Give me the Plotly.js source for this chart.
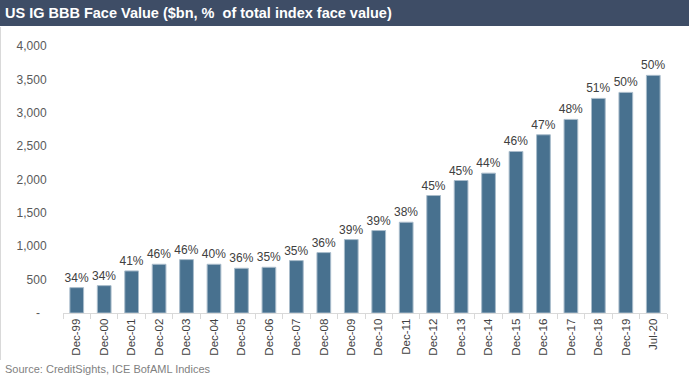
<!DOCTYPE html>
<html>
<head>
<meta charset="utf-8">
<script src="https://cdn.plot.ly/plotly-3.0.1.min.js"></script>
<style>
html,body{margin:0;padding:0;background:#fff;}
#chart{width:691px;height:379px;}
</style>
</head>
<body>
<div id="chart"></div>
<script>
const categories = ["Dec-99","Dec-00","Dec-01","Dec-02","Dec-03","Dec-04","Dec-05","Dec-06","Dec-07","Dec-08","Dec-09","Dec-10","Dec-11","Dec-12","Dec-13","Dec-14","Dec-15","Dec-16","Dec-17","Dec-18","Dec-19","Jul-20"];
const faceValue = [380,410,630,730,800,730,670,685,785,905,1100,1235,1360,1760,1985,2095,2420,2670,2900,3215,3305,3560];
const pctOfIndex = [34,34,41,46,46,40,36,35,35,36,39,39,38,45,45,44,46,47,48,51,50,50];
const yTickVals = [0,500,1000,1500,2000,2500,3000,3500,4000];
const yTickText = ["-\u00a0\u00a0","500","1,000","1,500","2,000","2,500","3,000","3,500","4,000"];

const FONT = "Liberation Sans, Arial, sans-serif";
const L = 63, R = 24, T = 46, B = 66, W = 691, H = 379;
const pw = W - L - R, ph = H - T - B;
const px = v => (v - L) / pw;          // page x -> paper x
const py = v => (H - B - v) / ph;      // page y -> paper y

const trace = {
  type: "bar",
  x: categories,
  y: faceValue,
  text: pctOfIndex.map(p => p + "%"),
  textposition: "outside",
  constraintext: "none",
  cliponaxis: false,
  textfont: {family: FONT, size: 12, color: "#404040"},
  marker: {color: "#48718f", line: {color: "#a9bccb", width: 1}},
  hoverinfo: "x+y"
};

const layout = {
  width: W, height: H,
  margin: {l: L, r: R, t: T, b: B, pad: 0},
  paper_bgcolor: "#fff", plot_bgcolor: "#fff",
  font: {family: FONT, size: 12, color: "#595959"},
  showlegend: false,
  bargap: 0.5,
  title: {
    text: "<b>US IG BBB Face Value ($bn, %\u00a0 of total index face value)</b>",
    font: {family: FONT, size: 14.5, color: "#ffffff"},
    x: 5 / W, xref: "container", xanchor: "left",
    y: 1 - 13 / H, yref: "container", yanchor: "middle"
  },
  xaxis: {
    type: "category",
    showgrid: false, zeroline: false,
    showline: true, linecolor: "#d9d9d9", linewidth: 1,
    ticks: "outside", tickson: "boundaries", ticklen: 5, tickcolor: "#d9d9d9",
    tickangle: -90,
    tickfont: {family: FONT, size: 11.5, color: "#404040"},
    fixedrange: true
  },
  yaxis: {
    range: [0, 4000],
    tickvals: yTickVals, ticktext: yTickText,
    showgrid: false, zeroline: false, showline: false,
    ticks: "outside", ticklen: 13, tickcolor: "rgba(0,0,0,0)",
    tickfont: {family: FONT, size: 12, color: "#595959"},
    fixedrange: true
  },
  shapes: [
    {type: "rect", xref: "paper", yref: "paper", layer: "below",
     x0: px(0), x1: px(689), y0: py(26), y1: py(0),
     fillcolor: "#3e4d66", line: {width: 0}},
    {type: "line", xref: "paper", yref: "paper",
     x0: px(0.5), x1: px(0.5), y0: py(27), y1: py(360),
     line: {color: "#d9d9d9", width: 1}}
  ],
  annotations: [
    {text: "Source: CreditSights, ICE BofAML Indices",
     xref: "paper", yref: "paper", x: px(3), y: py(369),
     xanchor: "left", yanchor: "middle", showarrow: false,
     font: {family: FONT, size: 11, color: "#7f7f7f"}}
  ]
};

Plotly.newPlot("chart", [trace], layout, {displayModeBar: false, staticPlot: true});
</script>
</body>
</html>
